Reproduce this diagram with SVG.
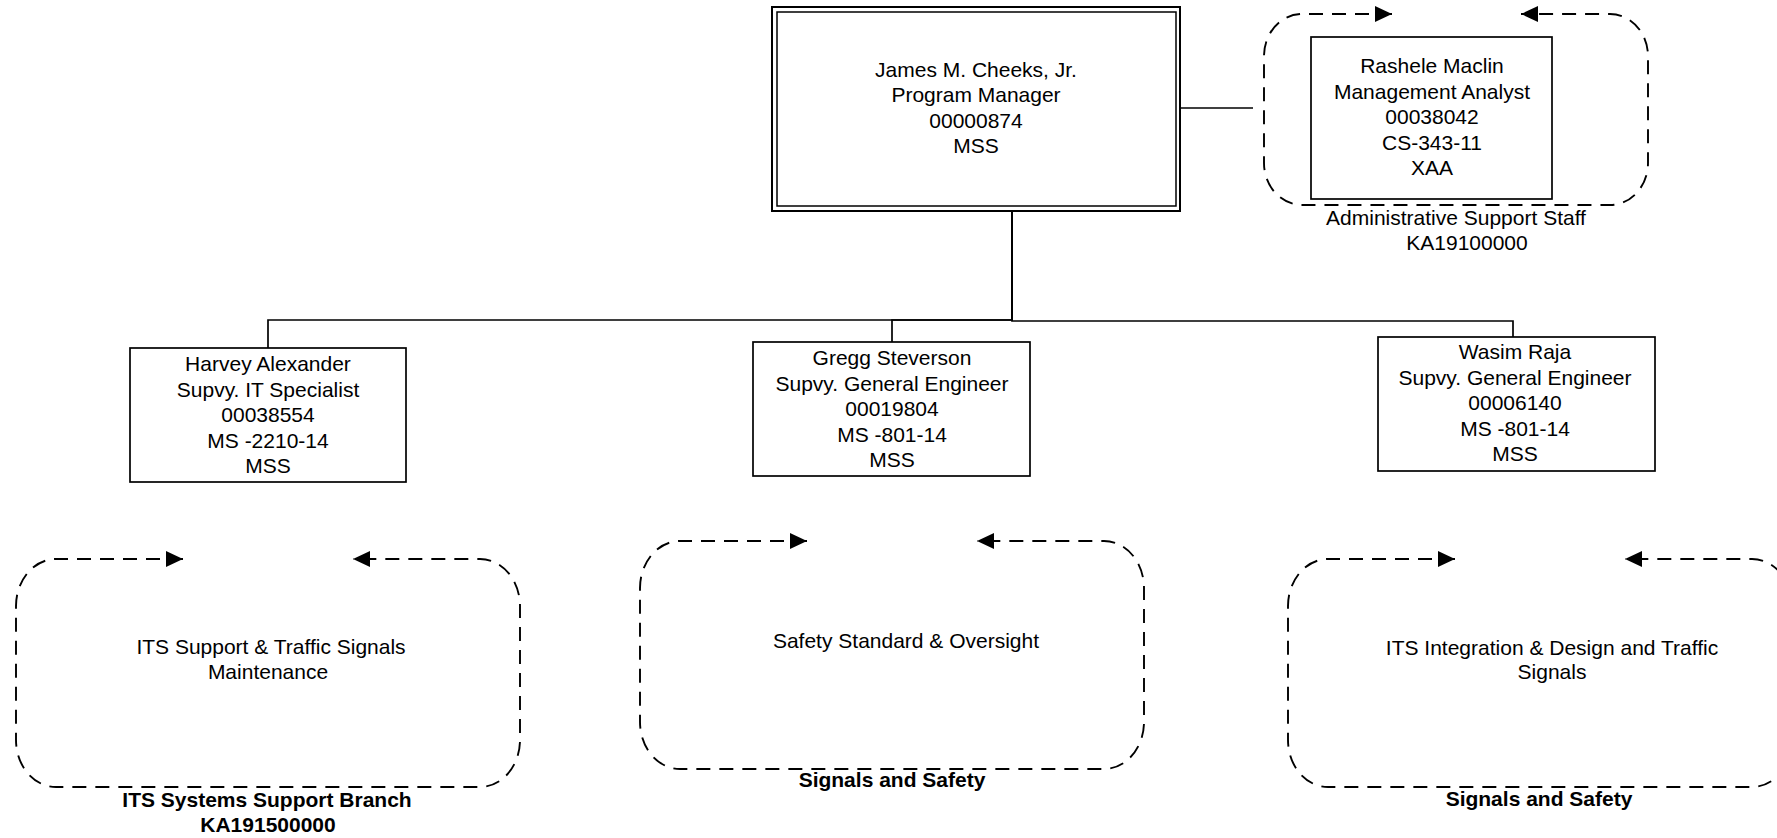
<svg xmlns="http://www.w3.org/2000/svg" width="1777" height="838" viewBox="0 0 1777 838">
<style>
  text { font-family: "Liberation Sans", Arial, sans-serif; font-size: 21px; fill: #000; text-anchor: middle; }
  .b { font-weight: bold; }
  .box { fill: #fff; stroke: #000; stroke-width: 1.7; }
  .conn { fill: none; stroke: #000; stroke-width: 1.7; }
  .grp { fill: none; stroke: #000; stroke-width: 1.9; stroke-dasharray: 14 9; marker-start: url(#ah); marker-end: url(#ah); }
</style>
<defs>
  <marker id="ah" markerUnits="userSpaceOnUse" markerWidth="18" markerHeight="18" refX="17" refY="8" orient="auto-start-reverse" viewBox="0 0 18 18">
    <path d="M0,0 L17,8 L0,16 z" fill="#000" stroke="none"/>
  </marker>
</defs>
<rect width="1777" height="838" fill="#fff"/>

<g id="connectors">
  <path class="conn" d="M1012,211 V320 H268 V348"/>
  <path class="conn" d="M1012,211 V320 H892 V342"/>
  <path class="conn" d="M1012,211 V321 H1513 V337"/>
  <path class="conn" d="M1180,108 H1253"/>
</g>

<g id="group-admin">
  <path class="grp" d="M1392,14 H1302 A38,42 0 0 0 1264,56 V163 A38,42 0 0 0 1302,205 H1610 A38,42 0 0 0 1648,163 V56 A38,42 0 0 0 1610,14 H1521"/>
  <text x="1456" y="225">Administrative Support Staff</text>
  <text x="1467" y="250">KA19100000</text>
</g>

<g id="node-cheeks">
  <rect x="772" y="7" width="408" height="204" fill="#fff" stroke="#000" stroke-width="2"/>
  <rect x="777" y="12" width="399" height="194" fill="none" stroke="#000" stroke-width="1.5"/>
  <text x="976" y="77">James M. Cheeks, Jr.</text>
  <text x="976" y="102">Program Manager</text>
  <text x="976" y="128">00000874</text>
  <text x="976" y="153">MSS</text>
</g>

<g id="node-maclin">
  <rect class="box" x="1311" y="37" width="241" height="162"/>
  <text x="1432" y="73">Rashele Maclin</text>
  <text x="1432" y="98.5">Management Analyst</text>
  <text x="1432" y="124">00038042</text>
  <text x="1432" y="149.5">CS-343-11</text>
  <text x="1432" y="175">XAA</text>
</g>

<g id="node-alexander">
  <rect class="box" x="130" y="348" width="276" height="134"/>
  <text x="268" y="371">Harvey Alexander</text>
  <text x="268" y="396.5">Supvy. IT Specialist</text>
  <text x="268" y="422">00038554</text>
  <text x="268" y="447.5">MS -2210-14</text>
  <text x="268" y="473">MSS</text>
</g>

<g id="node-steverson">
  <rect class="box" x="753" y="342" width="277" height="134"/>
  <text x="892" y="365">Gregg Steverson</text>
  <text x="892" y="390.5">Supvy. General Engineer</text>
  <text x="892" y="416">00019804</text>
  <text x="892" y="441.5">MS -801-14</text>
  <text x="892" y="467">MSS</text>
</g>

<g id="node-raja">
  <rect class="box" x="1378" y="337" width="277" height="134"/>
  <text x="1515" y="359">Wasim Raja</text>
  <text x="1515" y="384.5">Supvy. General Engineer</text>
  <text x="1515" y="410">00006140</text>
  <text x="1515" y="435.5">MS -801-14</text>
  <text x="1515" y="461">MSS</text>
</g>

<g id="group-its-support">
  <path class="grp" d="M183,559 H56 A40,47 0 0 0 16,606 V740 A40,47 0 0 0 56,787 H480 A40,47 0 0 0 520,740 V606 A40,47 0 0 0 480,559 H353"/>
  <text x="271" y="654">ITS Support &amp; Traffic Signals</text>
  <text x="268" y="679">Maintenance</text>
  <text class="b" x="267" y="807">ITS Systems Support Branch</text>
  <text class="b" x="268" y="832">KA191500000</text>
</g>

<g id="group-safety">
  <path class="grp" d="M807,541 H680 A40,47 0 0 0 640,588 V722 A40,47 0 0 0 680,769 H1104 A40,47 0 0 0 1144,722 V588 A40,47 0 0 0 1104,541 H977"/>
  <text x="906" y="648">Safety Standard &amp; Oversight</text>
  <text class="b" x="892" y="787">Signals and Safety</text>
</g>

<g id="group-its-integration">
  <path class="grp" d="M1455,559 H1328 A40,47 0 0 0 1288,606 V740 A40,47 0 0 0 1328,787 H1752 A40,47 0 0 0 1792,740 V606 A40,47 0 0 0 1752,559 H1625"/>
  <text x="1552" y="655">ITS Integration &amp; Design and Traffic</text>
  <text x="1552" y="679">Signals</text>
  <text class="b" x="1539" y="806">Signals and Safety</text>
</g>
</svg>
